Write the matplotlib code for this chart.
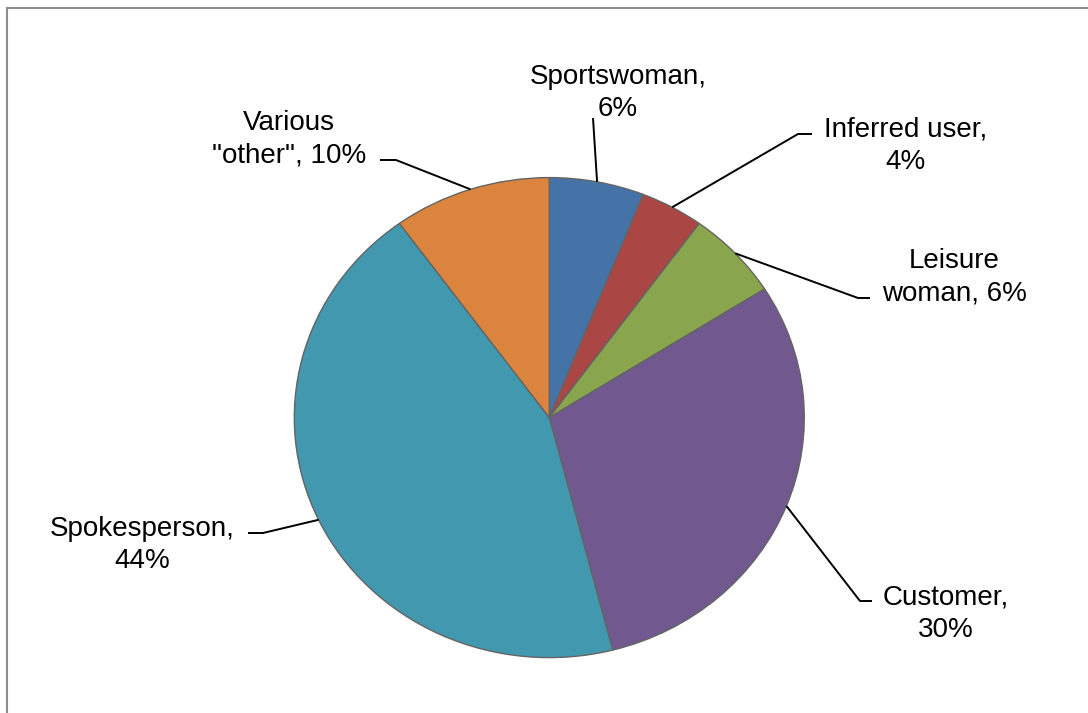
import numpy as np
import matplotlib
matplotlib.use("Agg")
import matplotlib.pyplot as plt
from matplotlib.lines import Line2D

# data
labels = ["Sportswoman", "Inferred user", "Leisure woman", "Customer",
          "Spokesperson", "Various \"other\""]
values = [6, 4, 6, 30, 44, 10]
label_texts = ["Sportswoman,\n6%", "Inferred user,\n4%", "Leisure\nwoman, 6%",
               "Customer,\n30%", "Spokesperson,\n44%", "Various\n\"other\", 10%"]
colors = ["#4572A7", "#AA4643", "#89A54E", "#71588F", "#4198AF", "#DB843D"]

W, H = 1088, 713
cx, cy = 549.3, 417.6     # pie centre in px (from top)
rx, ry = 255.0, 240.0     # pie radii in px

def px(x, y):
    # pixel (from top-left) -> data units
    return (x - cx) / rx, (cy - y) / ry

# label layout in px: text centre, tick end (None = no tick), elbow
layout = [
    ((618, 93), None, (593, 118)),
    ((906, 146), (812, 134), (798, 134)),
    ((954, 277), (870, 298), (858, 298)),
    ((946, 614), (872, 601), (860, 601)),
    ((142, 545), (248, 533), (263, 533)),
    ((289, 139), (380, 160), (396, 160)),
]

fig = plt.figure(figsize=(W / 100, H / 100), dpi=100)
ax = fig.add_axes([0, 0, 1, 1])

wedges, _ = ax.pie(values, colors=colors, startangle=90, counterclock=False,
                   radius=1, wedgeprops=dict(edgecolor="#646464", linewidth=1.0))
ax.set_aspect("auto")
ax.set_xlim(-cx / rx, (W - cx) / rx)
ax.set_ylim(-(H - cy) / ry, cy / ry)
ax.axis("off")

for w, txt, (tpos, tick, elbow) in zip(wedges, label_texts, layout):
    mid = np.deg2rad((w.theta1 + w.theta2) / 2)
    ex, ey = np.cos(mid), np.sin(mid)
    pts = [(ex, ey), px(*elbow)]
    if tick is not None:
        pts.append(px(*tick))
    xs, ys = zip(*pts)
    ax.plot(xs, ys, color="black", linewidth=1.4, solid_capstyle="butt")
    tx, ty = px(*tpos)
    ax.text(tx, ty, txt, ha="center", va="center", multialignment="center",
            fontsize=20, family="Liberation Sans", linespacing=1.3, color="black")

# chart area border (top and left visible)
fig.add_artist(Line2D([6.5 / W, 6.5 / W], [0, 1 - 7.5 / H], color="#8c8c8c",
                      linewidth=1.5, transform=fig.transFigure))
fig.add_artist(Line2D([6.5 / W, 1], [1 - 7.5 / H, 1 - 7.5 / H], color="#8c8c8c",
                      linewidth=1.5, transform=fig.transFigure))

fig.savefig("out.png", dpi=100, facecolor="white")
